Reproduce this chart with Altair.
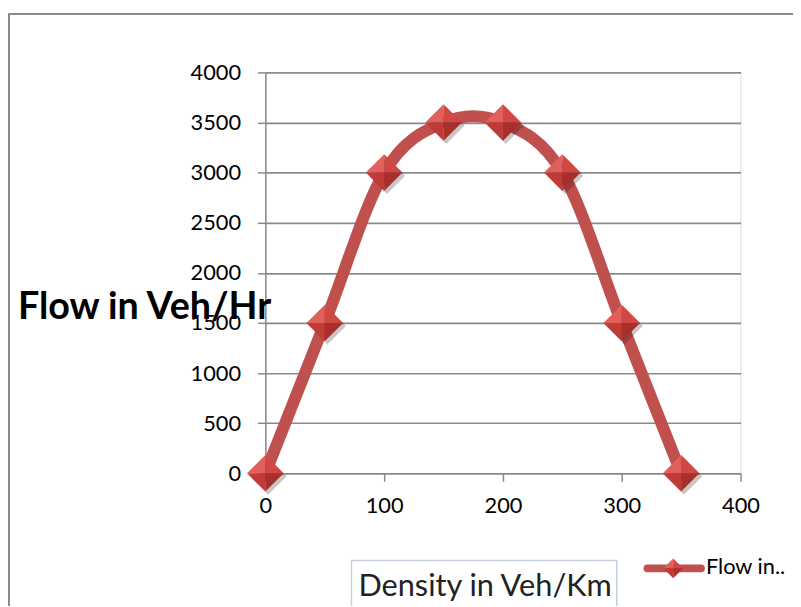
import altair as alt
import pandas as pd

density = [0, 50, 100, 150, 200, 250, 300, 350]
flow = [0, 1500, 3000, 3500, 3500, 3000, 1500, 0]
y_ticks = [0, 500, 1000, 1500, 2000, 2500, 3000, 3500, 4000]
x_ticks = [0, 100, 200, 300, 400]
y_title = ["Flow in Veh/Hr"]
x_title = ["Density in Veh/Km"]
legend_label = ["Flow in.."]

df = pd.DataFrame({"density": density, "flow": flow})
one = alt.Data(values=[{}])

W, H = 480, 405
FONT = "Lato"
GRAY = "#8a8a8a"

xs = alt.X("density:Q", scale=alt.Scale(domain=[0, 400], nice=False),
           axis=alt.Axis(values=x_ticks, grid=False, title=None, labelFont=FONT, format="d",
                         labelFontSize=22, labelColor="#000000", labelPadding=15,
                         tickSize=8, tickColor=GRAY, domainColor=GRAY,
                         tickWidth=1.5, domainWidth=1.5, labelFlush=False))
ys = alt.Y("flow:Q", scale=alt.Scale(domain=[0, 4000], nice=False),
           axis=alt.Axis(values=y_ticks, grid=True, gridColor=GRAY, gridWidth=1.6,
                         title=None, labelFont=FONT, labelFontSize=22, format="d",
                         labelColor="#000000", labelPadding=17, tickSize=8,
                         tickColor=GRAY, domainColor=GRAY, tickWidth=1.5,
                         domainWidth=1.5, labelFlush=False))

frame = alt.Chart(one).mark_rect(fill=None, stroke=GRAY, strokeWidth=2).encode(
    x=alt.value(-259), x2=alt.value(700), y=alt.value(-59), y2=alt.value(700))

line = alt.Chart(df).mark_line(color="#c0504d", strokeWidth=12, interpolate="cardinal",
                               strokeCap="round").encode(x=xs, y=ys)

SZ = 1369
shadow = alt.Chart(df).mark_point(
    shape="M-0.85,0.17L0.15,-0.83L1.15,0.17L0.15,1.17Z", filled=True,
    color="#000000", opacity=0.22, size=SZ).encode(x="density:Q", y="flow:Q")

FACES = [("M-1,0L0,-1L0,0Z", "#e2605c"), ("M0,-1L1,0L0,0Z", "#d04844"),
         ("M-1,0L0,0L0,1Z", "#c03b37"), ("M0,0L1,0L0,1Z", "#a92f2b")]
faces = []
for path, col in FACES:
    faces.append(alt.Chart(df).mark_point(shape=path, filled=True, color=col,
                                          opacity=1, size=SZ, strokeWidth=0)
                 .encode(x="density:Q", y="flow:Q"))

ytitle = alt.Chart(pd.DataFrame({"t": y_title})).mark_text(
    font=FONT, fontSize=38, fontWeight="bold", align="left", baseline="alphabetic",
    color="#000000").encode(x=alt.value(-250), y=alt.value(249), text="t:N")

xbox = alt.Chart(one).mark_rect(fill="#ffffff", stroke="#c5cfe0", strokeWidth=1.5).encode(
    x=alt.value(87), x2=alt.value(355), y=alt.value(493), y2=alt.value(580))
xtitle = alt.Chart(pd.DataFrame({"t": x_title})).mark_text(
    font=FONT, fontSize=31, align="left", baseline="alphabetic",
    color="#222222").encode(x=alt.value(94), y=alt.value(529), text="t:N")

leg_line = alt.Chart(one).mark_rule(color="#c0504d", strokeWidth=8, strokeCap="round").encode(
    x=alt.value(386), x2=alt.value(440), y=alt.value(501))
leg_faces = []
for path, col in FACES:
    leg_faces.append(alt.Chart(one).mark_point(shape=path, filled=True, color=col,
                                               opacity=1, size=400, strokeWidth=0)
                     .encode(x=alt.value(412), y=alt.value(501)))
leg_text = alt.Chart(pd.DataFrame({"t": legend_label})).mark_text(
    font=FONT, fontSize=22, align="left", baseline="alphabetic",
    color="#000000").encode(x=alt.value(445), y=alt.value(507), text="t:N")

chart = alt.layer(frame, line, shadow, *faces, ytitle, xbox, xtitle, leg_line,
                  *leg_faces, leg_text).properties(
    width=W, height=H,
    autosize=alt.AutoSizeParams(type="none"),
    padding={"left": 260, "top": 62, "right": 53, "bottom": 131},
).configure_view(stroke=None).configure(background="#ffffff")

chart.save("out.html", embed_options={"renderer": "svg", "actions": False})
